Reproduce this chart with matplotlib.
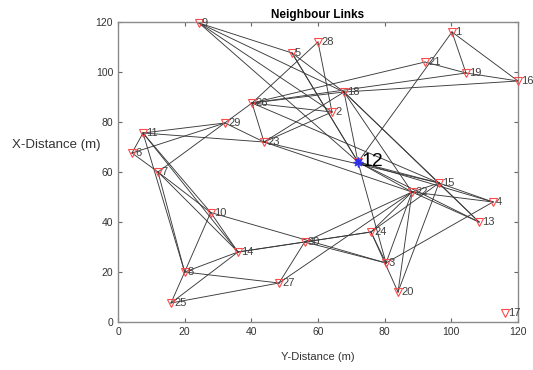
import numpy as np
import matplotlib
matplotlib.use("Agg")
import matplotlib.pyplot as plt

# node positions (m)
node_ids = [1, 2, 3, 4, 5, 6, 7, 8, 9, 10,
            11, 12, 13, 14, 15, 16, 17, 18, 19, 20,
            21, 22, 23, 24, 25, 26, 27, 28, 29, 30]
node_x = [100.2, 64.2, 80.4, 112.5, 52.2, 4.2, 12.0, 20.0, 24.3, 27.8,
          7.5, 72.0, 108.3, 36.0, 96.3, 120.0, 116.1, 67.8, 104.4, 84.0,
          92.1, 88.2, 43.8, 75.9, 15.9, 40.2, 48.3, 60.0, 32.1, 56.0]
node_y = [116.0, 84.0, 23.6, 48.0, 107.6, 67.6, 60.0, 20.0, 119.6, 43.8,
          75.6, 64.0, 40.0, 28.0, 55.6, 96.4, 3.6, 92.0, 99.6, 12.0,
          104.0, 52.0, 72.0, 36.0, 7.6, 87.6, 15.6, 112.0, 79.6, 32.0]
sink = 12

# neighbour links (pairs of node ids)
links = [(9, 5), (9, 18), (9, 2), (9, 12), (5, 12), (5, 12), (5, 18),
         (28, 26), (28, 2), (1, 12), (1, 19), (1, 16), (21, 19), (21, 26),
         (19, 16), (26, 19), (18, 16), (26, 18), (26, 2), (26, 23), (26, 15),
         (26, 7),
         (29, 11), (29, 6), (29, 23), (11, 23), (11, 6), (11, 8), (11, 10),
         (11, 14), (6, 7), (7, 10), (7, 14), (7, 8),
         (23, 2), (23, 18), (23, 15), (23, 22),
         (18, 12), (18, 22), (18, 15), (18, 13),
         (12, 15), (12, 4), (12, 13), (12, 22), (12, 3),
         (22, 4), (22, 13), (22, 15), (22, 20), (22, 3), (22, 24),
         (15, 4), (15, 13), (15, 20), (15, 24), (3, 4),
         (24, 20), (24, 3), (30, 24), (30, 3), (10, 3), (10, 8), (10, 14),
         (8, 14), (14, 30), (8, 27), (8, 25), (25, 27), (25, 14),
         (27, 30), (27, 22), (14, 24), (30, 22)]

pos = {n: (x, y) for n, x, y in zip(node_ids, node_x, node_y)}
font = "Liberation Sans"

fig = plt.figure(figsize=(5.33, 3.70), dpi=100)
ax = fig.add_axes([118/533, 48/370, 400/533, 300/370])

for a, b in links:
    xa, ya = pos[a]
    xb, yb = pos[b]
    ax.plot([xa, xb], [ya, yb], color="#3a3a3a", lw=0.65, zorder=1)

for n in node_ids:
    x, y = pos[n]
    ax.plot(x, y, marker="v", ms=6, mfc="none", mec="#ff4a4a", mew=0.8,
            ls="none", zorder=3, clip_on=False)
    if n == sink:
        ax.plot(x, y, marker=(8, 2, 0), ms=7, color="#3030e8", mew=0.9,
                ls="none", zorder=4)
        ax.text(x + 1.0, y, str(n), fontsize=14, color="black",
                va="center", ha="left", zorder=5, family=font)
    else:
        ax.text(x + 0.9, y, str(n), fontsize=8, color="#404040",
                va="center", ha="left", zorder=5, family=font)

ax.set_xlim(0, 120)
ax.set_ylim(0, 120)
ax.set_xticks(np.arange(0, 121, 20))
ax.set_yticks(np.arange(0, 121, 20))
ax.tick_params(direction="in", top=True, right=True, length=3,
               labelsize=7.5, colors="#666666", labelcolor="#333333")
for lbl in ax.get_xticklabels() + ax.get_yticklabels():
    lbl.set_family(font)
for sp in ax.spines.values():
    sp.set_color("#8a8a8a")
    sp.set_linewidth(1.0)

ax.set_title("Neighbour Links", fontsize=8.5, fontweight="bold",
             family=font, pad=3)
fig.text(318/533, 1 - 357/370, "Y-Distance (m)", ha="center", va="center",
         fontsize=8, color="#333333", family=font)
fig.text(12/533, 1 - 145/370, "X-Distance (m)", ha="left", va="center",
         fontsize=9.5, color="#333333", family=font)

fig.savefig("out.png", dpi=100)
